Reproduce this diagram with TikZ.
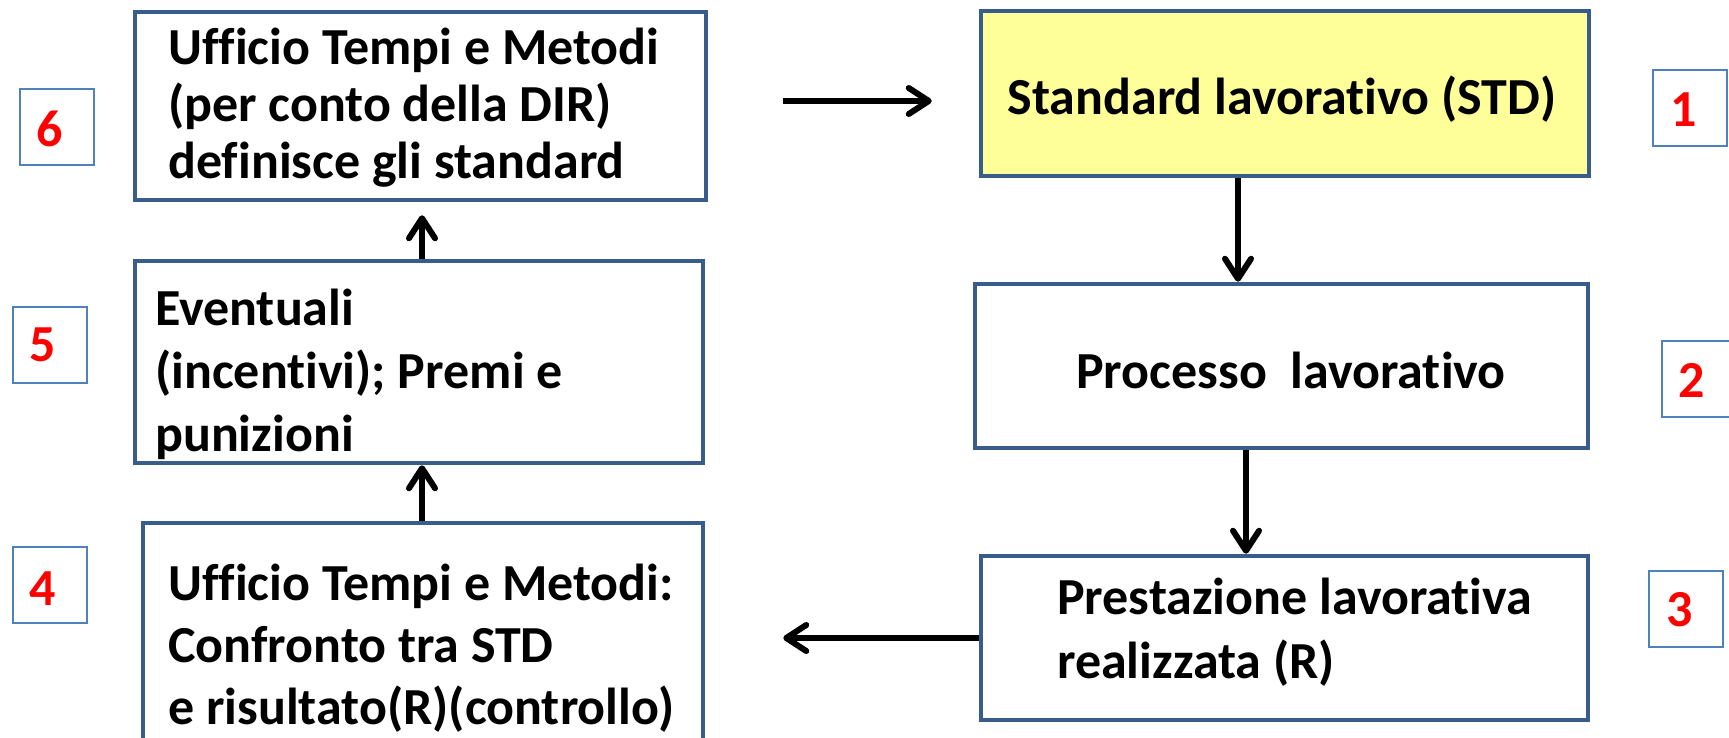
\documentclass[tikz,border=0pt]{standalone}
\usepackage{fontspec}
\setmainfont[Ligatures=NoCommon]{Carlito}
\usetikzlibrary{arrows.meta}
\definecolor{boxblue}{HTML}{385D8A}
\definecolor{numblue}{HTML}{4F81BD}
\definecolor{stdyellow}{HTML}{FFFF99}
\definecolor{numred}{HTML}{FF0000}
\begin{document}
\begin{tikzpicture}[x=1pt,y=-1pt,
  mainbox/.style={draw=boxblue, line width=4.5pt, rectangle, inner sep=0pt},
  numbox/.style={draw=numblue, line width=2pt, fill=white, rectangle, inner sep=0pt, minimum width=74pt, minimum height=76pt},
  numtxt/.style={text=numred, font=\fontsize{52}{56}\selectfont\bfseries, inner sep=0pt},
  boxtxt/.style={font=\fontsize{52}{60}\selectfont\bfseries, inner sep=0pt, anchor=base west},
  ctrtxt/.style={font=\fontsize{52}{60}\selectfont\bfseries, inner sep=0pt, anchor=base},
  arr/.style={-{Straight Barb[length=20pt,width=26pt,line width=6pt,round]}, line width=6pt}
]
\useasboundingbox (0,0) rectangle (1729,738);

% main boxes
\node[mainbox, minimum width=571pt, minimum height=188pt] (b6) at (420.5,106) {};
\node[mainbox, minimum width=568pt, minimum height=202pt] (b5) at (419,362) {};
\node[mainbox, minimum width=560pt, minimum height=240pt] (b4) at (423,643) {};
\node[mainbox, fill=stdyellow, minimum width=608pt, minimum height=165pt] (b1) at (1285,93.5) {};
\node[mainbox, minimum width=613pt, minimum height=164pt] (b2) at (1281.5,366) {};
\node[mainbox, minimum width=607pt, minimum height=164pt] (b3) at (1284.5,638) {};

% texts
\node[boxtxt] (t6) at (168,65) {\fontsize{52}{57}\selectfont\begin{tabular}[t]{@{}l@{}}Ufficio Tempi e Metodi\\(per conto della DIR)\\definisce gli standard\end{tabular}};
\node[boxtxt] (t5) at (155,325) {\fontsize{52}{63}\selectfont\begin{tabular}[t]{@{}l@{}}Eventuali\\(incentivi); Premi e\\punizioni\end{tabular}};
\node[boxtxt] (t4) at (168,600) {\fontsize{52}{62}\selectfont\begin{tabular}[t]{@{}l@{}}Ufficio Tempi e Metodi:\\Confronto tra STD\\e risultato(R)(controllo)\end{tabular}};
\node[ctrtxt] (t1) at (1282,115) {Standard lavorativo (STD)};
\node[ctrtxt] (t2) at (1291,388) {Processo\ \ lavorativo};
\node[boxtxt] (t3) at (1057,614) {\fontsize{52}{64}\selectfont\begin{tabular}[t]{@{}l@{}}Prestazione lavorativa\\realizzata (R)\end{tabular}};

% number boxes
\node[numbox] (n6) at (56.5,127.5) {};
\node[numbox] (n5) at (49.5,345) {};
\node[numbox] (n4) at (49.5,584.5) {};
\node[numbox] (n1) at (1690,108.5) {};
\node[numbox] (n2) at (1699,379) {};
\node[numbox] (n3) at (1686,609) {};
\node[numtxt] (d6) at (50,128.5) {6};
\node[numtxt] (d5) at (43,345) {5};
\node[numtxt] (d4) at (43,589) {4};
\node[numtxt] (d1) at (1684,110) {1};
\node[numtxt] (d2) at (1692,380) {2};
\node[numtxt] (d3) at (1680,610) {3};

% connectors
\draw[arr, shorten <=75pt, shorten >=47pt] ([yshift=5pt]b6.east) -- ([yshift=-7.5pt]b1.west);
\draw[arr] ([xshift=-47pt]b1.south) -- ([xshift=-43.5pt]b2.north);
\draw[arr] ([xshift=-35.5pt]b2.south) -- ([xshift=-38.5pt]b3.north);
\draw[arr, shorten >=78pt] (b3.west) -- (b3.west -| b4.east);
\draw[arr] ([xshift=-1pt]b4.north) -- ([xshift=-1pt]b4.north |- b5.south);
\draw[arr, shorten >=13pt] ([xshift=3pt]b5.north) -- ([xshift=3pt]b5.north |- b6.south);
\end{tikzpicture}
\end{document}
